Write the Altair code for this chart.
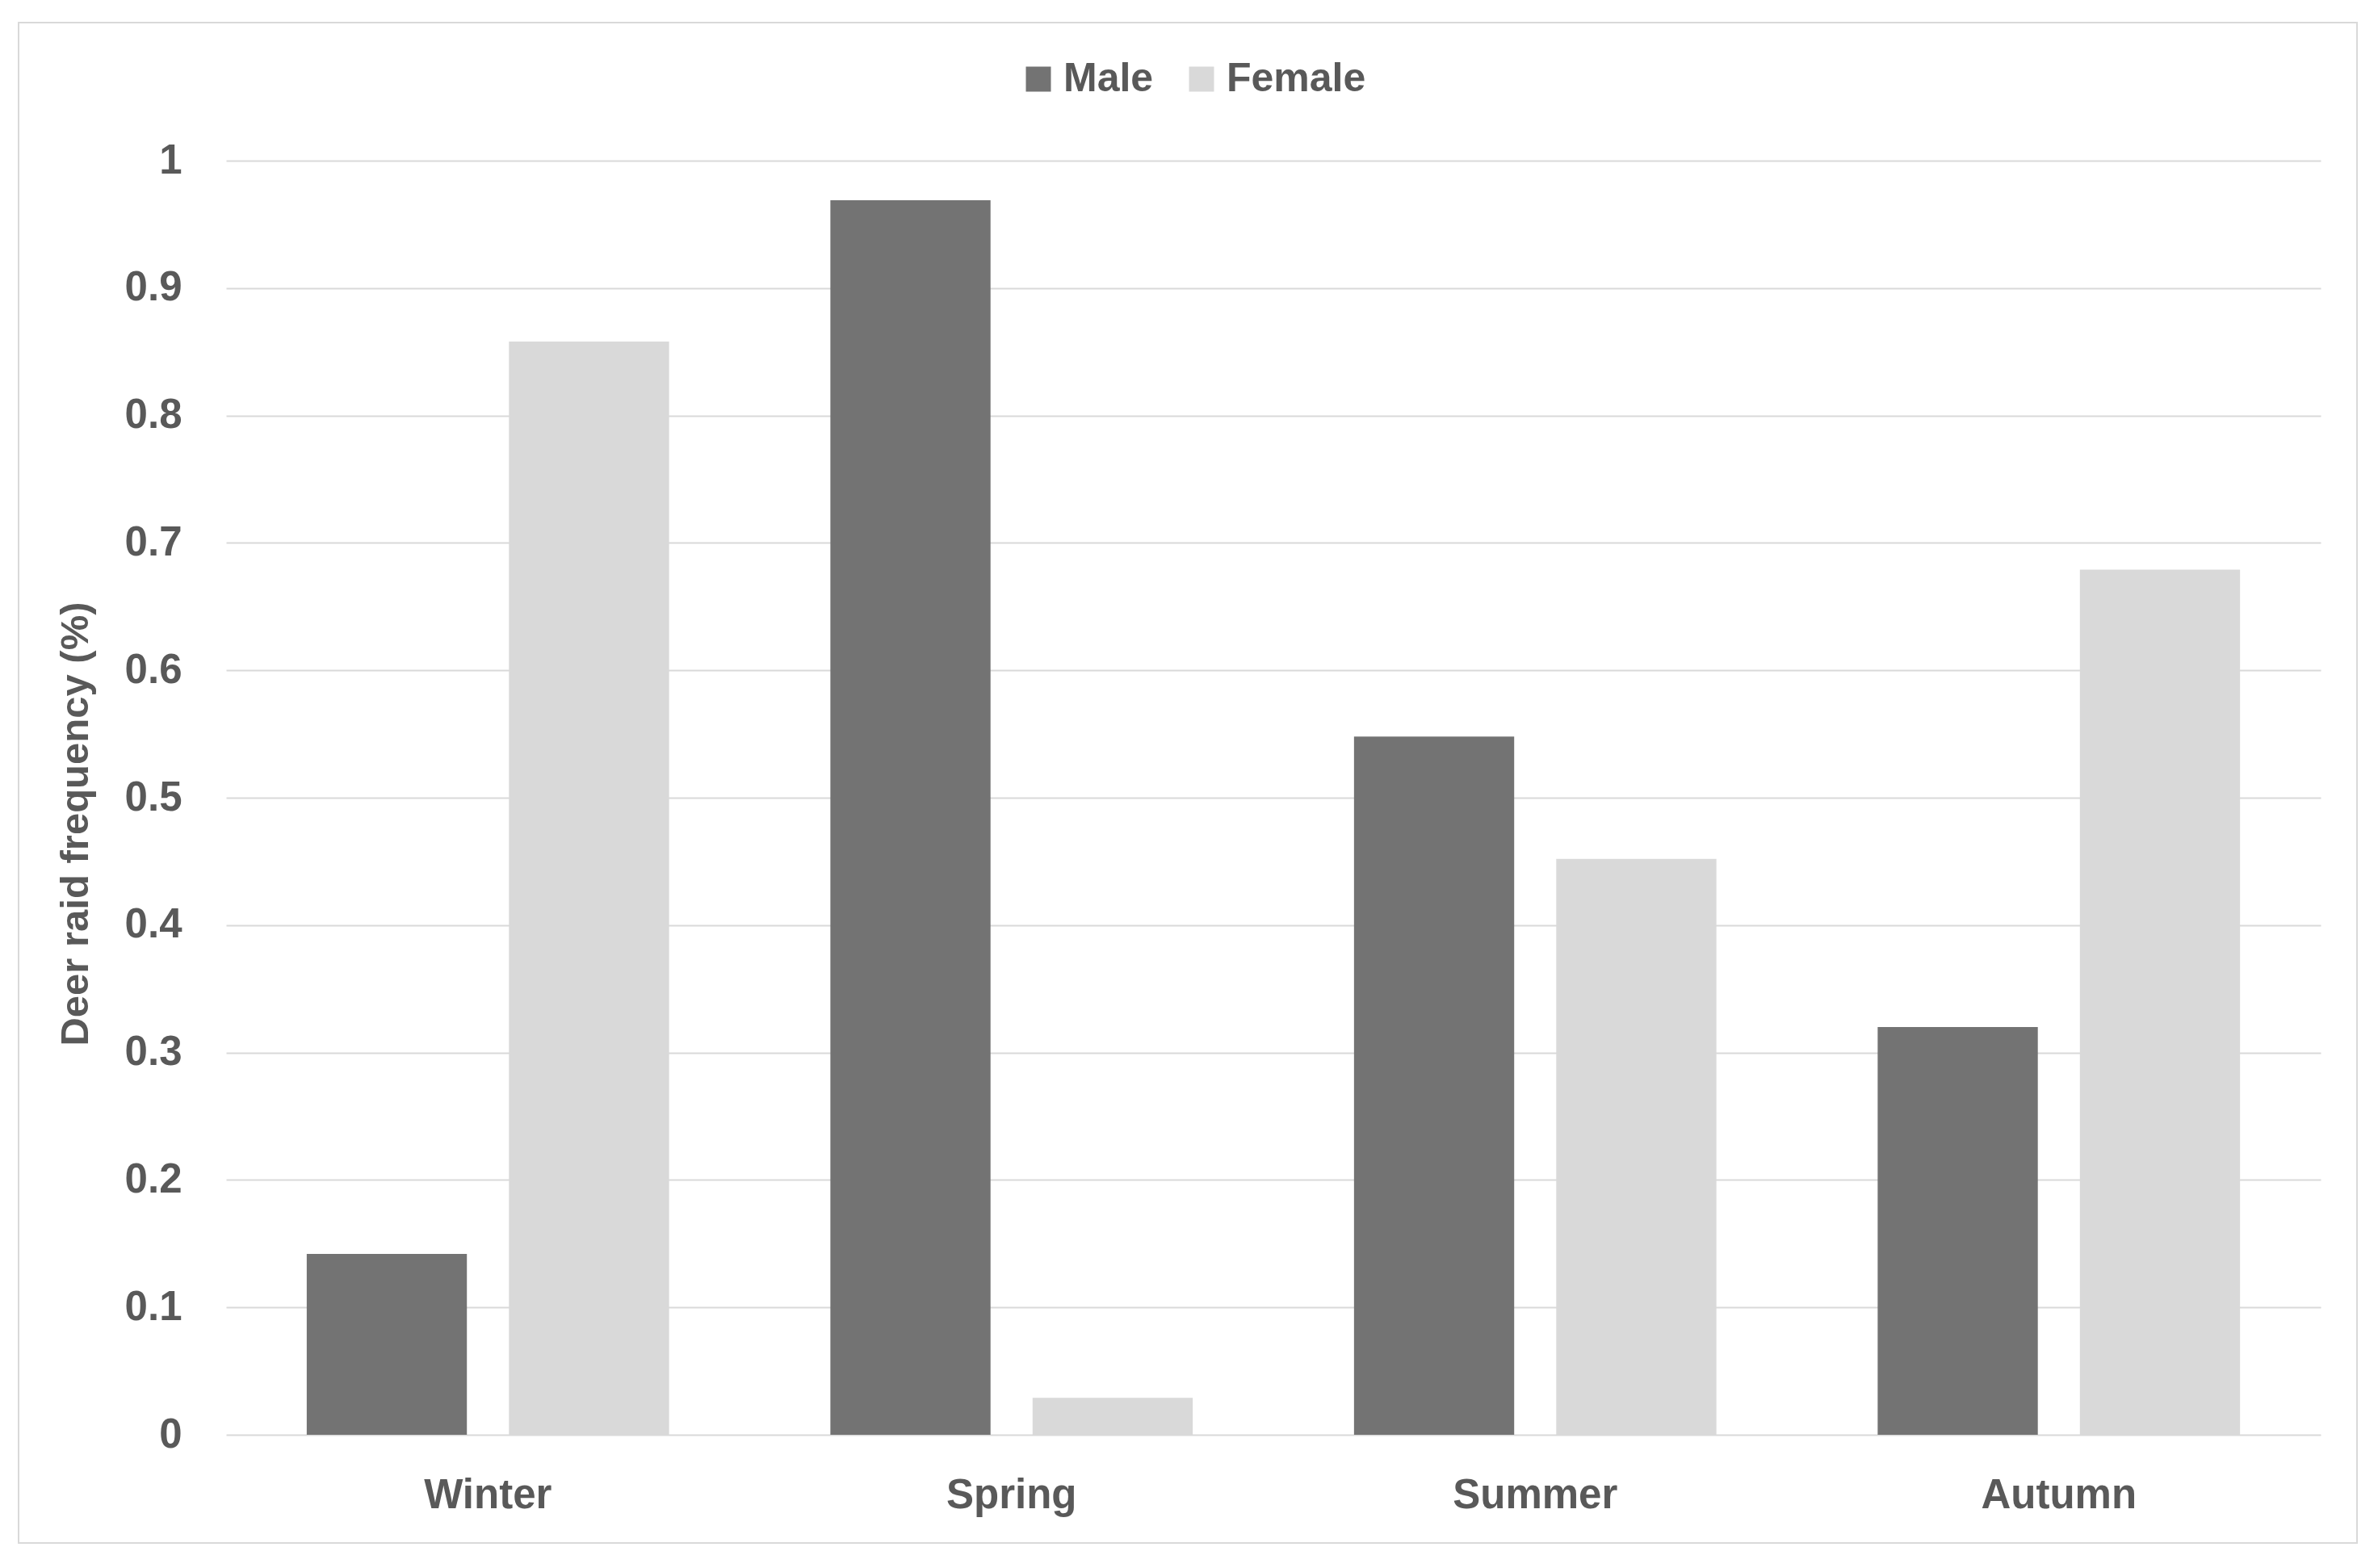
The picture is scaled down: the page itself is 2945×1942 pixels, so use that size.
import altair as alt
import pandas as pd

seasons = ["Winter", "Spring", "Summer", "Autumn"]
sexes = ["Male", "Female"]
male = [0.142, 0.969, 0.548, 0.320]
female = [0.858, 0.029, 0.452, 0.679]
y_ticks = [0, 0.1, 0.2, 0.3, 0.4, 0.5, 0.6, 0.7, 0.8, 0.9, 1]
colors = ["#737373", "#D9D9D9"]

rows = []
for i, s in enumerate(seasons):
    rows.append({"season": s, "sex": "Male", "value": male[i]})
    rows.append({"season": s, "sex": "Female", "value": female[i]})
df = pd.DataFrame(rows)

FONT = "Liberation Sans"
TXT = "#595959"

bars = alt.Chart(df).mark_bar().encode(
    x=alt.X("season:N", sort=seasons,
            scale=alt.Scale(paddingInner=0.308, paddingOuter=0.154),
            axis=alt.Axis(title=None, labelAngle=0, domain=False, ticks=False,
                          labelFont=FONT, labelFontSize=51, labelFontWeight="bold",
                          labelColor=TXT, labelPadding=50, labelLimit=600, grid=False)),
    xOffset=alt.XOffset("sex:N", sort=sexes, scale=alt.Scale(paddingInner=0.208)),
    y=alt.Y("value:Q", scale=alt.Scale(domain=[0, 1], nice=False),
            axis=alt.Axis(title="Deer raid frequency (%)", values=y_ticks, format=".1~f",
                          domain=False, ticks=False, grid=True, gridColor="#D9D9D9",
                          gridWidth=2, labelFont=FONT, labelFontSize=51,
                          labelFontWeight="bold", labelColor=TXT, labelPadding=55,
                          labelLimit=600,
                          titleFont=FONT, titleFontSize=49, titleFontWeight="bold",
                          titleColor=TXT, titleAngle=270, titleX=-187, titleY=821,
                          titleAlign="center", titleBaseline="middle", titleLimit=2000)),
    color=alt.Color("sex:N", sort=sexes,
                    scale=alt.Scale(domain=sexes, range=colors),
                    legend=alt.Legend(title=None, orient="none", legendX=981, legendY=-126,
                                      direction="horizontal", symbolType="square",
                                      symbolSize=961, symbolStrokeWidth=0,
                                      labelFont=FONT, labelFontSize=50,
                                      labelFontWeight="bold", labelColor=TXT,
                                      labelLimit=600,
                                      columnPadding=34, labelOffset=6, padding=0)),
)

frame = alt.Chart(alt.Data(values=[{}])).mark_rect(
    filled=False, stroke="#D9D9D9", strokeWidth=2
).encode(
    x=alt.value(-257), x2=alt.value(2639), y=alt.value(-171), y2=alt.value(1712)
)

chart = alt.layer(frame, bars).properties(
    width=2594, height=1578,
    autosize=alt.AutoSizeParams(type="none"),
    padding={"left": 272, "top": 191, "right": 61, "bottom": 153},
    background="white",
).configure_view(stroke=None)

chart.save("out.html", embed_options={"renderer": "svg", "actions": False})
